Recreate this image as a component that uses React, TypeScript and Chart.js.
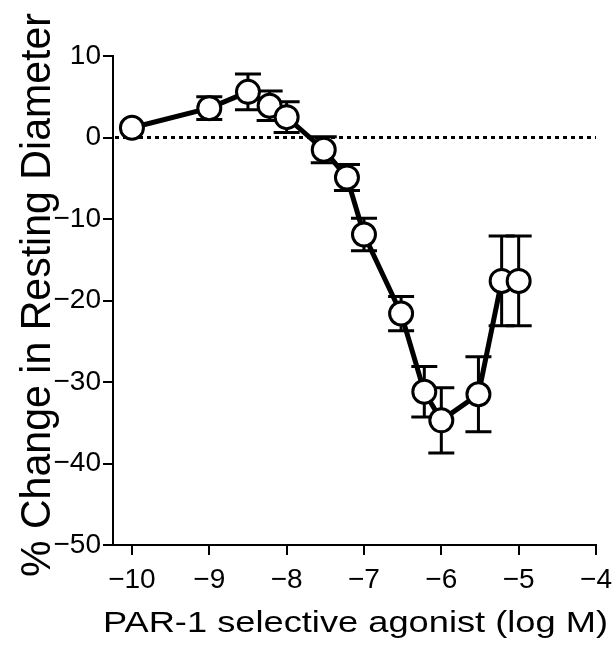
import React, { useEffect, useRef } from "react";
import { Chart, registerables } from "chart.js";

Chart.register(...registerables);

const logDose = [-10, -9, -8.5, -8.22, -8, -7.52, -7.22, -7, -6.52, -6.22, -6, -5.52, -5.22, -5];
const meanChange = [1.2, 3.6, 5.6, 3.9, 2.5, -1.5, -4.9, -11.9, -21.6, -31.2, -34.7, -31.5, -17.6, -17.6];
const semChange = [0, 1.4, 2.2, 1.8, 1.9, 1.6, 1.6, 2.0, 2.1, 3.1, 4.0, 4.6, 5.5, 5.5];
const xTicks = [-10, -9, -8, -7, -6, -5, -4];
const yTicks = [10, 0, -10, -20, -30, -40, -50];
const xTitle = "PAR-1 selective agonist (log M)";
const yTitle = "% Change in Resting Diameter";

const FONT = "'Liberation Sans', Arial, sans-serif";
const fmt = (v: any) => String(v).replace("-", "\u2212");

const errorBarPlugin = {
  id: "errorBars",
  beforeDatasetsDraw(chart: any) {
    const { ctx, chartArea, scales } = chart;
    const xs = scales.x;
    const ys = scales.y;
    ctx.save();
    ctx.strokeStyle = "#000";
    ctx.lineWidth = 3;
    ctx.setLineDash([4, 4]);
    const y0 = ys.getPixelForValue(0);
    ctx.beginPath();
    ctx.moveTo(chartArea.left + 2, y0);
    ctx.lineTo(chartArea.right, y0);
    ctx.stroke();
    ctx.setLineDash([]);
    ctx.lineWidth = 3;
    for (let i = 0; i < logDose.length; i++) {
      const e = semChange[i];
      if (!e) continue;
      const px = xs.getPixelForValue(logDose[i]);
      const top = ys.getPixelForValue(meanChange[i] + e);
      const bot = ys.getPixelForValue(meanChange[i] - e);
      ctx.beginPath();
      ctx.moveTo(px, top);
      ctx.lineTo(px, bot);
      ctx.moveTo(px - 13, top);
      ctx.lineTo(px + 13, top);
      ctx.moveTo(px - 13, bot);
      ctx.lineTo(px + 13, bot);
      ctx.stroke();
    }
    ctx.restore();
  },
};

const titlePlugin = {
  id: "stretchedTitles",
  afterDraw(chart: any) {
    const { ctx } = chart;
    ctx.save();
    ctx.fillStyle = "#000";
    ctx.textAlign = "center";
    ctx.textBaseline = "alphabetic";
    ctx.font = `30px ${FONT}`;
    let w = ctx.measureText(xTitle).width;
    ctx.save();
    ctx.translate(355.5, 632);
    ctx.scale(505 / w, 1);
    ctx.fillText(xTitle, 0, 0);
    ctx.restore();
    ctx.font = `43px ${FONT}`;
    w = ctx.measureText(yTitle).width;
    ctx.save();
    ctx.translate(50, 295);
    ctx.rotate(-Math.PI / 2);
    ctx.scale(564 / w, 1);
    ctx.fillText(yTitle, 0, 0);
    ctx.restore();
    ctx.restore();
  },
};

export default function App() {
  const ref = useRef<HTMLCanvasElement | null>(null);
  useEffect(() => {
    if (!ref.current) return;
    const chart = new Chart(ref.current, {
      type: "scatter",
      data: {
        datasets: [
          {
            data: logDose.map((x, i) => ({ x, y: meanChange[i] })),
            showLine: true,
            borderColor: "#000",
            borderWidth: 5,
            pointRadius: 11.5,
            pointBorderWidth: 3,
            pointBackgroundColor: "#fff",
            pointBorderColor: "#000",
          },
        ],
      },
      options: {
        responsive: false,
        animation: false,
        layout: { padding: { top: 56, right: 18, left: 0, bottom: 0 } },
        plugins: { legend: { display: false }, tooltip: { enabled: false } },
        scales: {
          x: {
            type: "linear",
            min: -10.245,
            max: -4,
            afterBuildTicks: (s: any) => {
              s.ticks = xTicks.map((v) => ({ value: v }));
            },
            afterFit: (s: any) => {
              s.height = 105;
              s.paddingLeft = 0;
              s.paddingRight = 0;
            },
            grid: { display: true, drawOnChartArea: false, drawTicks: true, tickLength: 10, color: "#000", lineWidth: 2 },
            border: { display: true, color: "#000", width: 2 },
            ticks: {
              color: "#000",
              font: { family: FONT, size: 28 },
              padding: 8,
              maxRotation: 0,
              autoSkip: false,
              callback: fmt,
            },
          },
          y: {
            type: "linear",
            min: -50,
            max: 10,
            afterBuildTicks: (s: any) => {
              s.ticks = yTicks.map((v) => ({ value: v }));
            },
            afterFit: (s: any) => {
              s.width = 113;
              s.paddingTop = 0;
              s.paddingBottom = 0;
            },
            grid: { display: true, drawOnChartArea: false, drawTicks: true, tickLength: 10, color: "#000", lineWidth: 2 },
            border: { display: true, color: "#000", width: 2 },
            ticks: {
              color: "#000",
              font: { family: FONT, size: 28 },
              padding: 2,
              autoSkip: false,
              callback: fmt,
            },
          },
        },
      },
      plugins: [errorBarPlugin, titlePlugin],
    } as any);
    return () => chart.destroy();
  }, []);
  return (
    <div style={{ position: "fixed", left: 0, top: 0, width: 614, height: 650, background: "#fff" }}>
      <canvas ref={ref} width={614} height={650} />
    </div>
  );
}
